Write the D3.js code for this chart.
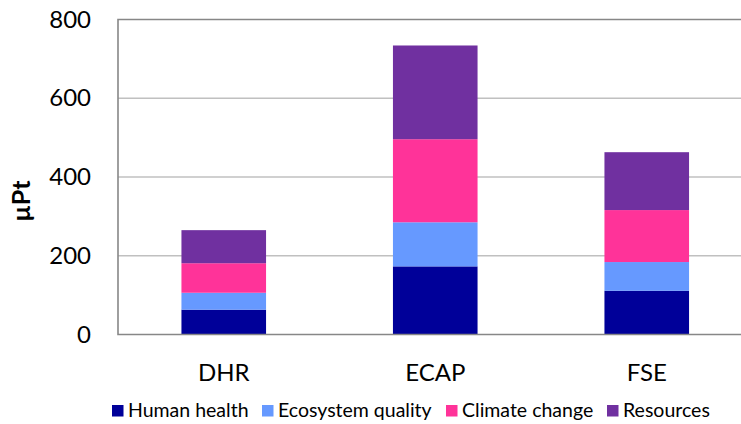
<!DOCTYPE html>
<html>
<head>
<meta charset="utf-8">
<script src="https://cdn.jsdelivr.net/npm/d3@7"></script>
<style>
  html, body { margin: 0; padding: 0; background: #fff; }
  svg { display: block; font-family: Lato, "Open Sans", sans-serif; }
</style>
</head>
<body>
<svg id="chart" width="741" height="424"></svg>
<script>
// Single-score impact per scenario, split by damage category (µPt)
const categories = ["DHR", "ECAP", "FSE"];
const seriesNames = ["Human health", "Ecosystem quality", "Climate change", "Resources"];
const humanHealth      = [63, 173, 111];
const ecosystemQuality = [43, 112, 73];
const climateChange    = [75, 211, 132];
const resources        = [84, 238, 147];
const yTicks = [0, 200, 400, 600, 800];
const colors = ["#000099", "#6699FF", "#FF3399", "#7030A0"];

const rows = categories.map((c, i) => ({
  cat: c,
  "Human health": humanHealth[i],
  "Ecosystem quality": ecosystemQuality[i],
  "Climate change": climateChange[i],
  "Resources": resources[i]
}));

const svg = d3.select("#chart");
const plotLeft = 118, plotRight = 752.5, plotTop = 19.5, plotBottom = 334.5;

const x = d3.scaleBand().domain(categories).range([plotLeft, plotRight])
  .paddingInner(0.6).paddingOuter(0.3);
const y = d3.scaleLinear().domain([0, 800]).range([plotBottom, plotTop]);
const color = d3.scaleOrdinal().domain(seriesNames).range(colors);

// horizontal gridlines
svg.append("g")
  .selectAll("line")
  .data(yTicks.filter(t => t > 0 && t < 800))
  .join("line")
  .attr("x1", plotLeft).attr("x2", plotRight)
  .attr("y1", d => y(d)).attr("y2", d => y(d))
  .attr("stroke", "#c0c0c0").attr("stroke-width", 1.3);

// stacked bars
const stacked = d3.stack().keys(seriesNames)(rows);
svg.append("g")
  .selectAll("g")
  .data(stacked)
  .join("g")
  .attr("fill", d => color(d.key))
  .selectAll("rect")
  .data(d => d)
  .join("rect")
  .attr("x", d => x(d.data.cat))
  .attr("width", x.bandwidth())
  .attr("y", d => y(d[1]))
  .attr("height", d => y(d[0]) - y(d[1]));

// plot frame
svg.append("path")
  .attr("d", `M${plotRight},${plotTop}H${plotLeft}V${plotBottom}H${plotRight}`)
  .attr("fill", "none").attr("stroke", "#878787").attr("stroke-width", 1.6);

// y axis labels
const yAxis = d3.axisLeft(y).tickValues(yTicks).tickSize(0).tickPadding(27);
svg.append("g")
  .attr("transform", `translate(${plotLeft},0)`)
  .call(yAxis)
  .call(g => g.select(".domain").remove())
  .call(g => g.selectAll("text")
    .attr("font-family", "Lato, sans-serif")
    .attr("font-size", 24).attr("fill", "#000"));

// x axis labels
const xAxis = d3.axisBottom(x).tickSize(0).tickPadding(29);
svg.append("g")
  .attr("transform", `translate(0,${plotBottom})`)
  .call(xAxis)
  .call(g => g.select(".domain").remove())
  .call(g => g.selectAll("text")
    .attr("font-family", "Lato, sans-serif")
    .attr("font-size", 24).attr("fill", "#000"));

// y axis title
svg.append("text")
  .attr("transform", "translate(30,201) rotate(-90)")
  .attr("text-anchor", "middle")
  .attr("font-size", 25).attr("font-weight", "bold")
  .text("µPt");

// legend
const legendX = [112, 262, 446, 607];
const legend = svg.append("g").attr("transform", "translate(0,405)");
const items = legend.selectAll("g")
  .data(seriesNames)
  .join("g")
  .attr("transform", (d, i) => `translate(${legendX[i]},0)`);
items.append("rect")
  .attr("width", 11.5).attr("height", 11.5)
  .attr("fill", d => color(d));
items.append("text")
  .attr("x", 16).attr("y", 12)
  .attr("font-size", 19.5).attr("fill", "#000")
  .text(d => d);
</script>
</body>
</html>
